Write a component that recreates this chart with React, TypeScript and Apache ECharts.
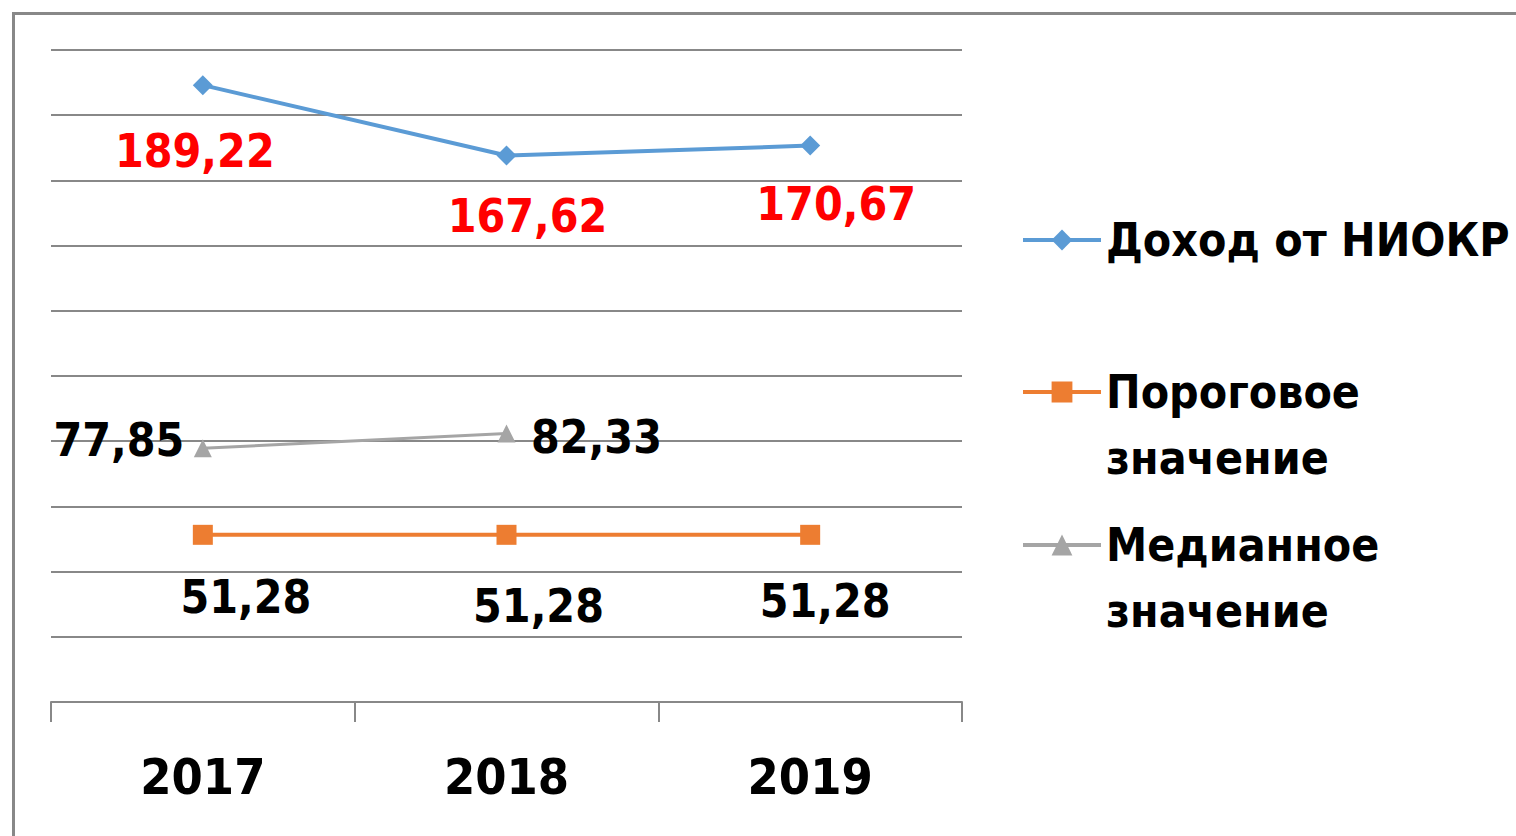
import React, { useEffect, useRef } from "react";
import * as echarts from "echarts";

const years = ["2017", "2018", "2019"];
const seriesNames = ["Доход от НИОКР", "Пороговое значение", "Медианное значение"];
const incomeValues = [189.22, 167.62, 170.67];
const thresholdValues = [51.28, 51.28, 51.28];
const medianValues: (number | null)[] = [77.85, 82.33, null];
const yMin = 0;
const yMax = 200;
const yInterval = 20;

// label placement (offsets from the point, in px)
const incomeLabelOffsets = [[-8, 66], [21, 60], [26, 58]];
const thresholdLabelOffsets = [[43, 62], [32, 71], [15, 66]];
const medianLabelOffsets = [[-84, -8], [90, 3]];

const FONT = "'DejaVu Sans Condensed', 'DejaVu Sans', sans-serif";
const fmt = (v: number) => v.toFixed(2).replace(".", ",");

export default function App() {
  const ref = useRef<HTMLDivElement>(null);
  useEffect(() => {
    if (!ref.current) return;
    const chart = echarts.init(ref.current, undefined, { renderer: "svg" });
    const labelBase = {
      show: true,
      position: "inside",
      fontFamily: FONT,
      fontSize: 46,
      fontWeight: "bold",
      formatter: (p: any) => fmt(p.value),
    };
    const mk = (vals: (number | null)[], offs: number[][]) =>
      vals.map((v, i) => ({ value: v, label: { offset: offs[i] || [0, 0] } }));
    const legendBase: any = {
      orient: "vertical",
      left: 1021,
      padding: 0,
      itemWidth: 78,
      itemHeight: 26,
      selectedMode: false,
      lineStyle: { width: 4 },
      textStyle: { fontFamily: FONT, fontSize: 46, fontWeight: "bold", color: "#000", lineHeight: 66 },
    };
    chart.setOption({
      animation: false,
      backgroundColor: "#fff",
      grid: { left: 51, right: 554, top: 50, bottom: 134 },
      legend: [
        { ...legendBase, top: 207, data: [seriesNames[0]] },
        { ...legendBase, top: 293, data: [seriesNames[1]], formatter: (n: string) => " \n" + n.split(" ").join("\n") },
        { ...legendBase, top: 446, data: [seriesNames[2]], formatter: (n: string) => " \n" + n.split(" ").join("\n") },
      ],
      xAxis: {
        type: "category",
        data: years,
        boundaryGap: true,
        axisLine: { lineStyle: { color: "#888", width: 2 } },
        axisTick: { show: true, length: 20, lineStyle: { color: "#888", width: 2 } },
        axisLabel: { fontFamily: FONT, fontSize: 50, fontWeight: "bold", color: "#000", margin: 50 },
      },
      yAxis: {
        type: "value",
        min: yMin,
        max: yMax,
        interval: yInterval,
        axisLine: { show: false },
        axisTick: { show: false },
        axisLabel: { show: false },
        splitLine: { lineStyle: { color: "#888", width: 2 } },
      },
      graphic: [
        {
          type: "rect",
          left: 11,
          top: 11,
          shape: { width: 1600, height: 900 },
          style: { fill: "none", stroke: "#888", lineWidth: 3 },
          silent: true,
        },
      ],
      series: [
        {
          name: seriesNames[0],
          type: "line",
          data: mk(incomeValues, incomeLabelOffsets),
          symbol: "diamond",
          symbolSize: 20,
          itemStyle: { color: "#5B9BD5" },
          lineStyle: { color: "#5B9BD5", width: 4 },
          label: { ...labelBase, color: "#FF0000" },
        },
        {
          name: seriesNames[1],
          type: "line",
          data: mk(thresholdValues, thresholdLabelOffsets),
          symbol: "rect",
          symbolSize: 20,
          itemStyle: { color: "#ED7D31" },
          lineStyle: { color: "#ED7D31", width: 4 },
          label: { ...labelBase, color: "#000" },
        },
        {
          name: seriesNames[2],
          type: "line",
          data: mk(medianValues, medianLabelOffsets),
          symbol: "triangle",
          symbolSize: 18,
          itemStyle: { color: "#A5A5A5" },
          lineStyle: { color: "#A5A5A5", width: 3 },
          label: { ...labelBase, color: "#000" },
        },
      ],
    });
    return () => chart.dispose();
  }, []);
  return (
    <div
      ref={ref}
      style={{ position: "fixed", left: 0, top: 0, width: 1516, height: 836, background: "#fff" }}
    />
  );
}
